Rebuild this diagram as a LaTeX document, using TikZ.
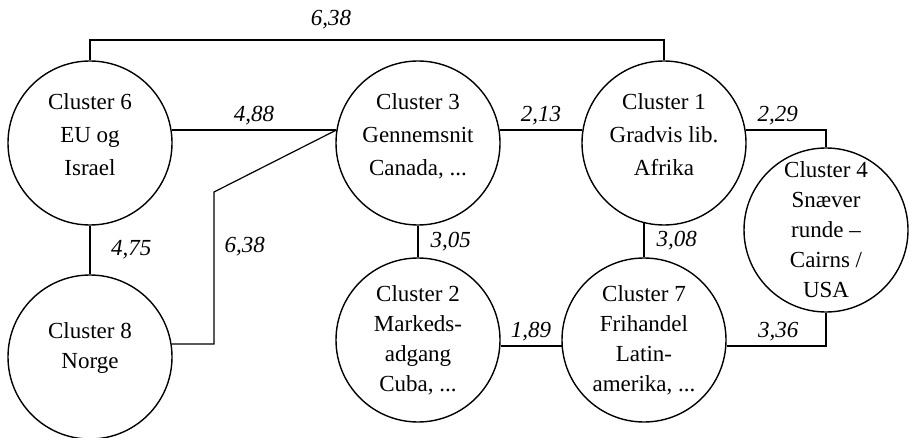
\documentclass[tikz,border=0pt]{standalone}
\usepackage{fontspec}
\setmainfont{Liberation Serif}
\usetikzlibrary{positioning}

\begin{document}
\begin{tikzpicture}[x=0.5pt,y=-0.5pt,
	cluster/.style={draw,circle,line width=0.7pt,minimum size=82pt,inner sep=0pt,align=center,
		font=\fontsize{11.5}{15}\selectfont},
	toprow/.style={cluster,font=\fontsize{11.5}{16.5}\selectfont,text depth=8pt},
	thicklink/.style={line width=1.2pt},
	thinlink/.style={line width=0.6pt},
	dist/.style={font=\fontsize{11.5}{14}\selectfont\itshape,inner sep=2pt}]
	\useasboundingbox (0,0) rectangle (909,438);
	% clusters
	\node[toprow] (c6) at (90,143) {Cluster 6\\EU og\\Israel};
	\node[cluster,text depth=11pt] (c8) at (90,357) {Cluster 8\\Norge};
	\node[toprow] (c3) at (418,143) {Cluster 3\\Gennemsnit\\Canada, ...};
	\node[cluster] (c2) at (418,340) {Cluster 2\\Markeds-\\adgang\\Cuba, ...};
	\node[toprow] (c1) at (664,143) {Cluster 1\\Gradvis lib.\\Afrika};
	\node[cluster] (c7) at (644,340) {Cluster 7\\Frihandel\\Latin-\\amerika, ...};
	\node[cluster] (c4) at (826,230) {Cluster 4\\Snæver\\runde –\\Cairns /\\USA};
	% bends
	\coordinate (top) at (0,40);
	\coordinate (b1) at (214,344);
	\coordinate (b2) at (214,192);
	% links
	\draw[thinlink] (c6.north) -- (c6.north |- top) -- node[dist,pos=0.42,above=3pt] (d638a) {6,38} (c1.north |- top) -- (c1.north);
	\draw[thicklink] (c6.9) -- node[dist,above] (d488) {4,88} (c3.171);
	\draw[thinlink] (c8.9) -- (b1) -- node[dist,pos=0.64,right=3pt] (d638b) {6,38} (b2) -- (c3.171);
	\draw[thicklink] (c6.south) -- node[dist,pos=0.5,right=8pt] (d475) {4,75} (c8.north);
	\draw[thicklink] (c3.9) -- node[dist,above] (d213) {2,13} (c1.171);
	\draw[thicklink] (c1.9) -| node[dist,pos=0.2,above] (d229) {2,29} (c4.north);
	\draw[thinlink] (c3.south) -- node[dist,right=4pt] (d305) {3,05} (c2.north);
	\draw[thinlink] (c1.256) -- node[dist,right=4pt] (d308) {3,08} (c1.256 |- c7.north);
	\draw[thicklink] (c2.-4) -- node[dist,above] (d189) {1,89} (c7.184);
	\draw[thicklink] (c7.-4) -| node[dist,pos=0.26,above] (d336) {3,36} (c4.south);
\end{tikzpicture}
\end{document}
